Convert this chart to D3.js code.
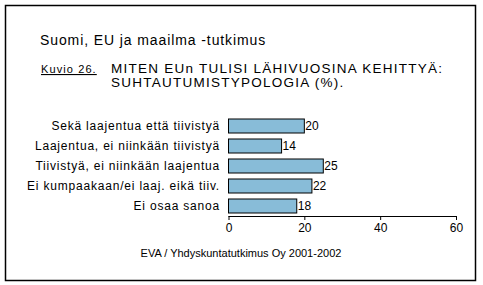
<!DOCTYPE html>
<html>
<head>
<meta charset="utf-8">
<script src="https://cdn.jsdelivr.net/npm/d3@7.9.0/dist/d3.min.js"></script>
<style>
  body { margin: 0; background: #fff; }
  svg { display: block; font-family: Arial, "Liberation Sans", sans-serif; }
</style>
</head>
<body>
<div id="chart"></div>
<script>
const categories = [
  'Sekä laajentua että tiivistyä',
  'Laajentua, ei niinkään tiivistyä',
  'Tiivistyä, ei niinkään laajentua',
  'Ei kumpaakaan/ei laaj. eikä tiiv.',
  'Ei osaa sanoa'
];
const values = [20, 14, 25, 22, 18];
const xTicks = [0, 20, 40, 60];
const subtitle = ['MITEN EUn TULISI LÄHIVUOSINA KEHITTYÄ:', 'SUHTAUTUMISTYPOLOGIA (%).'];

const width = 483;
const height = 285;

const svg = d3.select('#chart')
  .append('svg')
  .attr('width', width)
  .attr('height', height);

// frame
svg.append('rect')
  .attr('x', 5.5).attr('y', 5.5)
  .attr('width', 470).attr('height', 275)
  .attr('fill', '#fff')
  .attr('stroke', '#000')
  .attr('stroke-width', 1.5);

// headings
svg.append('text')
  .attr('x', 40).attr('y', 45)
  .attr('font-size', 14)
  .attr('letter-spacing', 0.9)
  .text('Suomi, EU ja maailma -tutkimus');

svg.append('text')
  .attr('x', 41).attr('y', 73)
  .attr('font-size', 11)
  .attr('letter-spacing', 1.1)
  .attr('text-decoration', 'underline')
  .text('Kuvio 26.');

svg.append('g')
  .selectAll('text')
  .data(subtitle)
  .join('text')
  .attr('x', 111)
  .attr('y', (d, i) => 73 + i * 14)
  .attr('font-size', 13.5)
  .attr('letter-spacing', 1.25)
  .text(d => d);

// scales
const x = d3.scaleLinear().domain([0, 60]).range([228.5, 456]);
const y = d3.scaleBand().domain(categories).range([116, 216]).paddingInner(0.3).paddingOuter(0.15);

const bars = svg.append('g');
bars.selectAll('rect')
  .data(values)
  .join('rect')
  .attr('x', x(0))
  .attr('y', (d, i) => y(categories[i]))
  .attr('width', d => x(d) - x(0))
  .attr('height', y.bandwidth())
  .attr('fill', '#88bcd8')
  .attr('stroke', '#000')
  .attr('stroke-width', 1);

bars.selectAll('text.val')
  .data(values)
  .join('text')
  .attr('class', 'val')
  .attr('x', d => x(d) + 1)
  .attr('y', (d, i) => y(categories[i]) + y.bandwidth() / 2)
  .attr('dy', '0.36em')
  .attr('font-size', 12)
  .text(d => d);

// category labels
svg.append('g')
  .selectAll('text')
  .data(categories)
  .join('text')
  .attr('x', 220)
  .attr('y', d => y(d) + y.bandwidth() / 2)
  .attr('dy', '0.36em')
  .attr('text-anchor', 'end')
  .attr('font-size', 12)
  .attr('letter-spacing', 0.8)
  .text(d => d);

// x axis
const xAxis = svg.append('g')
  .attr('transform', 'translate(0,216)')
  .call(d3.axisBottom(x).tickValues(xTicks).tickSize(4).tickPadding(3));
xAxis.select('.domain').attr('stroke', '#000').attr('d', `M${x(0)},0.5H${x(60)}`);
xAxis.selectAll('.tick line').attr('stroke', '#000').attr('y1', 0);
xAxis.selectAll('.tick text').attr('font-size', 12).attr('font-family', 'Arial, "Liberation Sans", sans-serif').attr('fill', '#000');

// source
svg.append('text')
  .attr('x', 241).attr('y', 257)
  .attr('text-anchor', 'middle')
  .attr('font-size', 11)
  .text('EVA / Yhdyskuntatutkimus Oy 2001-2002');
</script>
</body>
</html>
